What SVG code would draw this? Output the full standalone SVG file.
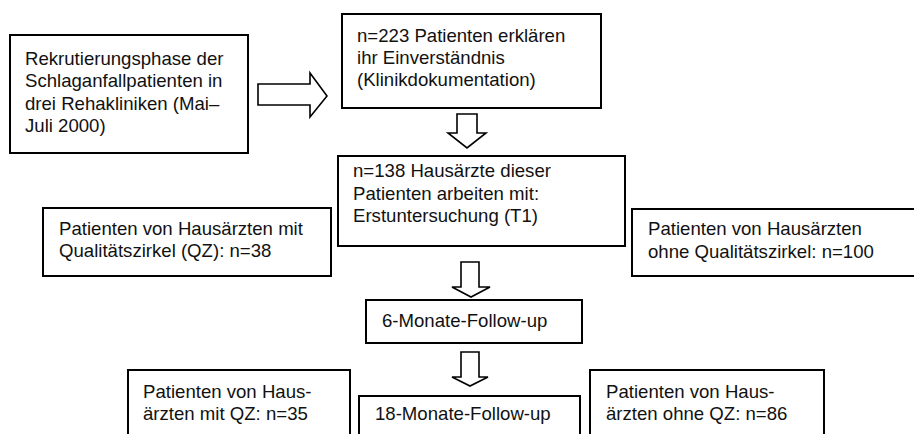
<svg xmlns="http://www.w3.org/2000/svg" width="914" height="434" viewBox="0 0 914 434">
<style>
.box{fill:#fff;stroke:#000;stroke-width:2}
.arr{fill:#fff;stroke:#000;stroke-width:1.6;stroke-linejoin:miter}
text{font-family:"Liberation Sans",Arial,sans-serif;font-size:18.6px;fill:#111}
</style>
<rect width="914" height="434" fill="#fff"/>
<g id="connectors">
<polygon class="arr" points="258,84 310,84 310,73 327,96 310,117 310,105 258,105"/>
<polygon class="arr" points="457,114 477,114 477,133 486,133 467,148 448,133 457,133"/>
<polygon class="arr" points="461,262 479,262 479,287 490,287 471,297 452,287 461,287"/>
<polygon class="arr" points="461,352 479,352 479,377 488,377 470,386 452,377 461,377"/>
</g>
<g id="recruit">
<rect class="box" x="10" y="35" width="238" height="118"/>
<text x="25" y="65">Rekrutierungsphase der</text>
<text x="25" y="87.3">Schlaganfallpatienten in</text>
<text x="25" y="109.6">drei Rehakliniken (Mai–</text>
<text x="25" y="132">Juli 2000)</text>
</g>
<g id="consent">
<rect class="box" x="342" y="14" width="259" height="94"/>
<text x="357" y="42">n=223 Patienten erklären</text>
<text x="357" y="64">ihr Einverständnis</text>
<text x="357" y="86">(Klinikdokumentation)</text>
</g>
<g id="t1">
<rect class="box" x="338" y="156" width="287" height="90"/>
<text x="353" y="177">n=138 Hausärzte dieser</text>
<text x="353" y="200">Patienten arbeiten mit:</text>
<text x="353" y="222">Erstuntersuchung (T1)</text>
</g>
<g id="withQZ">
<rect class="box" x="43" y="208" width="288" height="68"/>
<text x="59" y="235">Patienten von Hausärzten mit</text>
<text x="59" y="257">Qualitätszirkel (QZ): n=38</text>
</g>
<g id="withoutQZ">
<rect class="box" x="632" y="209" width="290" height="67"/>
<text x="648" y="235">Patienten von Hausärzten</text>
<text x="648" y="258">ohne Qualitätszirkel: n=100</text>
</g>
<g id="fu6">
<rect class="box" x="366" y="300" width="216" height="43"/>
<text x="382" y="327">6-Monate-Follow-up</text>
</g>
<g id="withQZ18">
<rect class="box" x="128" y="370" width="222" height="72"/>
<text x="143" y="398">Patienten von Haus-</text>
<text x="143" y="420">ärzten mit QZ: n=35</text>
</g>
<g id="fu18">
<rect class="box" x="359" y="396" width="221" height="46"/>
<text x="375" y="420">18-Monate-Follow-up</text>
</g>
<g id="withoutQZ18">
<rect class="box" x="590" y="370" width="234" height="72"/>
<text x="606" y="398">Patienten von Haus-</text>
<text x="606" y="420">ärzten ohne QZ: n=86</text>
</g>
</svg>
